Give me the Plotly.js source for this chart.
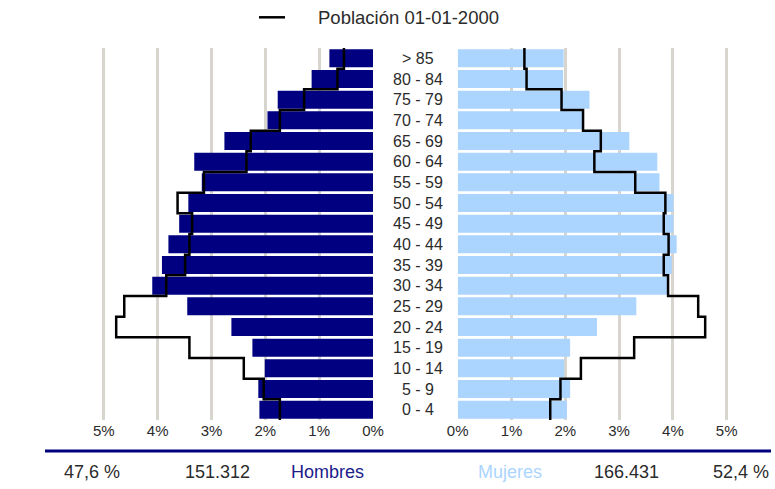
<!DOCTYPE html>
<html>
<head>
<meta charset="utf-8">
<script src="https://cdn.plot.ly/plotly-3.0.1.min.js"></script>
<style>
html, body { margin: 0; padding: 0; background: #ffffff; }
#chart { width: 775px; height: 489px; }
</style>
</head>
<body>
<div id="chart"></div>
<script>
// Age groups, bottom to top
const ages = ['0 - 4','5 - 9','10 - 14','15 - 19','20 - 24','25 - 29','30 - 34','35 - 39','40 - 44','45 - 49','50 - 54','55 - 59','60 - 64','65 - 69','70 - 74','75 - 79','80 - 84','> 85'];
// Current population share (%)
const hombres = [2.11, 2.13, 2.01, 2.24, 2.63, 3.45, 4.10, 3.92, 3.80, 3.60, 3.43, 3.18, 3.32, 2.76, 1.96, 1.77, 1.14, 0.81];
const mujeres = [2.03, 2.09, 1.98, 2.09, 2.59, 3.32, 3.91, 3.98, 4.07, 4.01, 4.01, 3.75, 3.71, 3.19, 2.31, 2.45, 1.96, 1.97];
// Población 01-01-2000 (%)
const hombres2000 = [1.73, 2.03, 2.40, 3.41, 4.77, 4.62, 3.84, 3.49, 3.41, 3.36, 3.63, 3.14, 2.35, 2.27, 1.73, 1.28, 0.66, 0.54];
const mujeres2000 = [1.72, 1.91, 2.29, 3.28, 4.60, 4.47, 3.91, 3.83, 3.92, 3.83, 3.86, 3.30, 2.54, 2.66, 2.33, 1.93, 1.28, 1.24];
// Axis ticks
const tickValues = [0, 1, 2, 3, 4, 5];
// Totals
const totalHombres = '151.312';
const totalMujeres = '166.431';
const pctHombres = '47,6 %';
const pctMujeres = '52,4 %';
const legendLabel = 'Población 01-01-2000';

const NAVY = '#000080';
const LIGHT = '#abd5ff';
const TEXT = '#2b2b2b';
const GRID = '#d8d5ce';
const FONT = 'Liberation Sans, Arial, sans-serif';

const idx = ages.map((_, i) => i);

function stepX(vals) {
  const out = [];
  vals.forEach(v => { out.push(v, v); });
  return out;
}
function stepY(vals) {
  const out = [];
  vals.forEach((_, i) => { out.push(i - 0.5, i + 0.5); });
  return out;
}

const traces = [
  {
    type: 'bar', orientation: 'h', x: hombres, y: idx,
    xaxis: 'x', yaxis: 'y', marker: { color: NAVY, line: { width: 0 } },
    name: 'Hombres', showlegend: false, hoverinfo: 'skip'
  },
  {
    type: 'bar', orientation: 'h', x: mujeres, y: idx,
    xaxis: 'x2', yaxis: 'y', marker: { color: LIGHT, line: { width: 0 } },
    name: 'Mujeres', showlegend: false, hoverinfo: 'skip'
  },
  {
    type: 'scatter', mode: 'lines', x: stepX(hombres2000), y: stepY(hombres2000),
    xaxis: 'x', yaxis: 'y', line: { color: '#000000', width: 2.5 },
    name: legendLabel, showlegend: false, hoverinfo: 'skip'
  },
  {
    type: 'scatter', mode: 'lines', x: stepX(mujeres2000), y: stepY(mujeres2000),
    xaxis: 'x2', yaxis: 'y', line: { color: '#000000', width: 2.5 },
    name: legendLabel, showlegend: false, hoverinfo: 'skip'
  }
];

const W = 775, T = 48, B = 69, H = 489;
const plotBottom = H - B, plotH = H - T - B;
const py = p => (plotBottom - p) / plotH;
const px = p => p / W;
const PER = 53.8; // px per 1%
const EXT = 0.1;  // range padding so the 5% gridline is drawn

const axisCommon = {
  tickvals: tickValues,
  ticktext: tickValues.map(v => v + '%'),
  showgrid: true, gridcolor: GRID, gridwidth: 3,
  zeroline: true, zerolinecolor: 'rgba(0,0,0,0)', zerolinewidth: 0,
  showline: false, ticks: '',
  tickfont: { family: FONT, size: 15, color: TEXT },
  fixedrange: true
};

const annotations = ages.map((a, i) => ({
  xref: 'paper', yref: 'y', x: px(418), y: i, text: a, showarrow: false,
  xanchor: 'center', yanchor: 'middle',
  font: { family: FONT, size: 16, color: TEXT }
}));

const bottomY = py(471.5);
[
  { x: 92, t: pctHombres, c: TEXT },
  { x: 217, t: totalHombres, c: TEXT },
  { x: 327, t: 'Hombres', c: '#20208a' },
  { x: 510, t: 'Mujeres', c: LIGHT },
  { x: 626, t: totalMujeres, c: TEXT },
  { x: 741, t: pctMujeres, c: TEXT }
].forEach(o => annotations.push({
  xref: 'paper', yref: 'paper', x: px(o.x), y: bottomY, text: o.t, showarrow: false,
  xanchor: 'center', yanchor: 'middle',
  font: { family: FONT, size: 18, color: o.c }
}));

annotations.push({
  xref: 'paper', yref: 'paper', x: px(316), y: py(17), text: legendLabel, showarrow: false,
  xanchor: 'left', yanchor: 'middle',
  font: { family: FONT, size: 18.5, color: TEXT }
});

const shapes = [
  { type: 'line', xref: 'paper', yref: 'paper', x0: px(259), x1: px(285), y0: py(17.3), y1: py(17.3),
    line: { color: '#000000', width: 2.5 } },
  { type: 'line', xref: 'paper', yref: 'paper', x0: px(45), x1: px(771), y0: py(451), y1: py(451),
    line: { color: NAVY, width: 3 } }
];

const layout = {
  width: W, height: H,
  margin: { l: 0, r: 0, t: T, b: B, pad: 0 },
  paper_bgcolor: '#ffffff', plot_bgcolor: '#ffffff',
  showlegend: false,
  bargap: 0.13,
  xaxis: Object.assign({}, axisCommon, { domain: [px(103.8 - EXT * PER), px(373)], range: [5 + EXT, 0], anchor: 'y' }),
  xaxis2: Object.assign({}, axisCommon, { domain: [px(457.7), px(726.7 + EXT * PER)], range: [0, 5 + EXT], anchor: 'y' }),
  yaxis: {
    range: [-0.5, 17.5], showgrid: false, zeroline: false, showline: false,
    showticklabels: false, ticks: '', fixedrange: true
  },
  annotations: annotations,
  shapes: shapes,
  font: { family: FONT, color: TEXT }
};

Plotly.newPlot('chart', traces, layout, { staticPlot: true, displayModeBar: false });
</script>
</body>
</html>
